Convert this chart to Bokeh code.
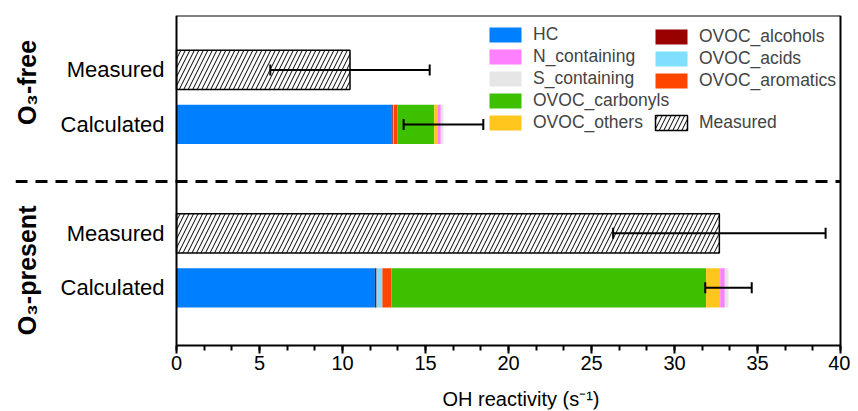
from bokeh.plotting import figure
from bokeh.models import (Range1d, FixedTicker, SingleIntervalTicker, ColumnDataSource,
                          Whisker, Label, Arrow, Legend, LegendItem, TeeHead, LinearAxis)
from bokeh.embed import file_html
from bokeh.resources import INLINE
import math

# ---------------- data ----------------
groups = ["O\u2083-free", "O\u2083-present"]
row_labels = {1: "Calculated", 2: "Measured", 4: "Calculated", 5: "Measured"}
calc_y = [4, 1]          # O3-free, O3-present (Calculated rows)
meas_y = [5, 2]          # Measured rows
x_title = "OH reactivity (s\u207b\u00b9)"

species = ["HC", "OVOC_alcohols", "OVOC_acids", "OVOC_aromatics",
           "OVOC_carbonyls", "OVOC_others", "N_containing", "S_containing"]
HC = [12.95, 11.95]
OVOC_alcohols = [0.08, 0.10]
OVOC_acids = [0.05, 0.35]
OVOC_aromatics = [0.24, 0.55]
OVOC_carbonyls = [2.20, 18.95]
OVOC_others = [0.20, 0.85]
N_containing = [0.20, 0.28]
S_containing = [0.16, 0.22]
calc_err = [2.4, 1.4]

measured = [10.45, 32.7]
measured_err = [4.8, 6.4]

colors = {"HC": "#0080FF", "OVOC_alcohols": "#990000", "OVOC_acids": "#80DFFF",
          "OVOC_aromatics": "#FF4500", "OVOC_carbonyls": "#3CC000",
          "OVOC_others": "#FFC61E", "N_containing": "#FF80FF", "S_containing": "#E6E6E6"}

FONT = "Liberation Sans"
X0, X1 = 0, 40          # extent of the boxed plot area
Y0, Y1 = -0.06, 6.0

# ---------------- figure ----------------
p = figure(width=850, height=410, output_backend="svg", toolbar_location=None,
           x_range=Range1d(-9.7, 40.6), y_range=Range1d(-1.235, Y1),
           min_border_left=15, min_border_right=0, min_border_top=15, min_border_bottom=1)
p.grid.visible = False
p.outline_line_color = None
p.background_fill_color = "white"

data = dict(y=calc_y, HC=HC, OVOC_alcohols=OVOC_alcohols, OVOC_acids=OVOC_acids,
            OVOC_aromatics=OVOC_aromatics, OVOC_carbonyls=OVOC_carbonyls,
            OVOC_others=OVOC_others, N_containing=N_containing, S_containing=S_containing)
src = ColumnDataSource(data)
renderers = p.hbar_stack(species, y="y", height=0.72, source=src,
                         color=[colors[s] for s in species], line_color=None)
rmap = dict(zip(species, renderers))

# Measured hatched bars
msrc = ColumnDataSource(dict(y=meas_y, right=measured,
                             lo=[m - e for m, e in zip(measured, measured_err)],
                             hi=[m + e for m, e in zip(measured, measured_err)]))
mr = p.hbar(y="y", left=0, right="right", height=0.72, source=msrc,
            fill_color="white", line_color="black", line_width=1.5,
            hatch_pattern="/", hatch_color="black", hatch_scale=9, hatch_weight=1)

# error bars
totals = [sum(v) for v in zip(HC, OVOC_alcohols, OVOC_acids, OVOC_aromatics,
                                OVOC_carbonyls, OVOC_others, N_containing, S_containing)]
csrc = ColumnDataSource(dict(y=calc_y, lo=[t - e for t, e in zip(totals, calc_err)],
                             hi=[t + e for t, e in zip(totals, calc_err)]))
for s in (msrc, csrc):
    w = Whisker(base="y", lower="lo", upper="hi", dimension="width", source=s,
                line_color="black", line_width=2, level="overlay",
                lower_head=TeeHead(size=11, line_width=2, line_color="black"),
                upper_head=TeeHead(size=11, line_width=2, line_color="black"))
    p.add_layout(w)

# dashed separator
p.add_layout(Arrow(end=None, x_start=-9.7, x_end=X1, y_start=2.95, y_end=2.95,
                   line_color="black", line_width=3, line_dash="12 8"))

# group labels
for g, yc in zip(groups, [4.77, 1.32]):
    p.add_layout(Label(x=-9.0, y=yc, text=g, angle=math.pi / 2, text_align="center",
                       text_baseline="middle", text_font=FONT, text_font_style="bold",
                       text_font_size="25px", text_color="black"))

# x-axis title
p.add_layout(Label(x=20.75, y=-1.035, text=x_title, text_align="center",
                   text_baseline="middle", text_font=FONT, text_font_size="20px",
                   text_color="black"))

# axes
p.yaxis.fixed_location = X0
p.yaxis.bounds = (Y0, Y1)
p.yaxis.ticker = FixedTicker(ticks=list(row_labels.keys()))
p.yaxis.major_label_overrides = {k: v for k, v in row_labels.items()}
p.yaxis.major_tick_line_color = None
p.yaxis.minor_tick_line_color = None
p.yaxis.axis_line_width = 2
p.yaxis.major_label_text_font = FONT
p.yaxis.major_label_text_font_size = "22px"
p.yaxis.major_label_text_color = "black"
p.yaxis.major_label_standoff = 6

p.xaxis.fixed_location = Y0
p.xaxis.bounds = (X0, X1)
p.xaxis.ticker = SingleIntervalTicker(interval=5, num_minor_ticks=3)
p.xaxis.axis_line_width = 2
p.xaxis.major_tick_line_width = 2
p.xaxis.minor_tick_line_width = 2
p.xaxis.major_tick_out = 8
p.xaxis.major_tick_in = 0
p.xaxis.minor_tick_out = 5
p.xaxis.minor_tick_in = 0
p.xaxis.major_label_text_font = FONT
p.xaxis.major_label_text_font_size = "20px"
p.xaxis.major_label_text_color = "black"
p.xaxis.major_label_standoff = 2

# frame lines (top & right)
top_ax = LinearAxis(bounds=(X0, X1), ticker=FixedTicker(ticks=[]), axis_line_width=2,
                    major_label_text_font_size="0px", major_tick_line_color=None,
                    minor_tick_line_color=None, major_label_standoff=0)
top_ax.fixed_location = Y1
right_ax = LinearAxis(bounds=(Y0, Y1), ticker=FixedTicker(ticks=[]), axis_line_width=2,
                      major_label_text_font_size="0px", major_tick_line_color=None,
                      minor_tick_line_color=None, major_label_standoff=0)
right_ax.fixed_location = X1
p.add_layout(top_ax, "above")
p.add_layout(right_ax, "right")

# legends: two columns
blank = p.hbar(y=[-5], left=0, right=0, height=0.1, alpha=0)
col1 = ["HC", "N_containing", "S_containing", "OVOC_carbonyls", "OVOC_others"]
col2 = ["OVOC_alcohols", "OVOC_acids", "OVOC_aromatics"]
items1 = [LegendItem(label=s, renderers=[rmap[s]]) for s in col1]
items2 = [LegendItem(label=s, renderers=[rmap[s]]) for s in col2]
items2 += [LegendItem(label=" ", renderers=[blank]), LegendItem(label="Measured", renderers=[mr])]
for items, loc in ((items1, (470, 276)), (items2, (636, 276))):
    lg = Legend(items=items, location=loc, padding=0, margin=0, spacing=1,
                glyph_width=40, glyph_height=19, label_height=19, label_standoff=8,
                label_text_font=FONT, label_text_font_size="17.5px",
                border_line_color=None, background_fill_alpha=0)
    p.add_layout(lg)

open("out.html", "w").write(file_html(p, INLINE))
